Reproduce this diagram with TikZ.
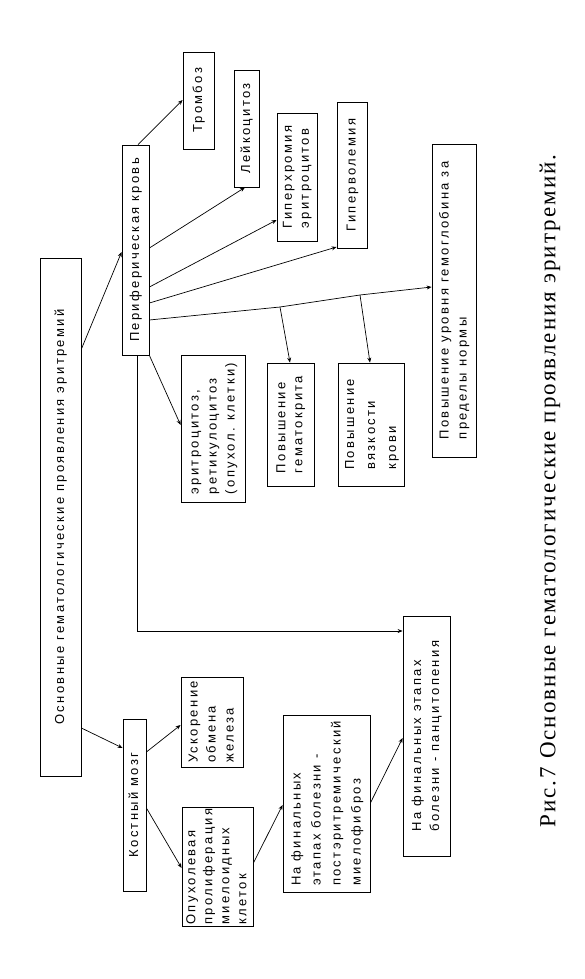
\documentclass[tikz,border=0pt]{standalone}
\usepackage{fontspec}
\setmainfont{Liberation Serif}
\newfontfamily\boxfont[LetterSpace=18]{Liberation Sans}
\newfontfamily\capfont[LetterSpace=9]{Liberation Serif}
\usetikzlibrary{arrows.meta}
\newcommand{\rt}[2][18]{\rotatebox{90}{\boxfont\fontsize{13}{#1}\selectfont\begin{tabular}{@{}l@{}}#2\end{tabular}}}
\begin{document}
\begin{tikzpicture}[x=1pt,y=-1pt,
  box/.style={draw=black, line width=0.8pt, rectangle, inner sep=0pt, fill=white},
  conn/.style={draw=black, line width=0.7pt, -{Stealth[length=5pt,width=4pt]}},
  plain/.style={draw=black, line width=0.7pt}]
\useasboundingbox[fill=white] (0,0) rectangle (585,979);
% boxes
\node[box, minimum width=41pt, minimum height=518pt] (main) at (60.5,517) {\rt{Основные гематологические проявления эритремий}};
\node[box, minimum width=27pt, minimum height=210pt] (per) at (135.5,250) {\rt{Периферическая кровь}};
\node[box, minimum width=31pt, minimum height=97pt] (tromb) at (198.5,100.5) {\rt{Тромбоз}};
\node[box, minimum width=25pt, minimum height=117pt] (leuk) at (246.5,128.5) {\rt{Лейкоцитоз}};
\node[box, minimum width=40pt, minimum height=128pt] (chrom) at (297,177) {\rt[17]{Гиперхромия\\эритроцитов}};
\node[box, minimum width=30pt, minimum height=146pt] (vol) at (352,175) {\rt{Гиперволемия}};
\node[box, minimum width=44pt, minimum height=313pt] (hb) at (454,300.5) {\rt{Повышение уровня гемоглобина за\\пределы нормы}};
\node[box, minimum width=64pt, minimum height=147pt] (ery) at (213,428.5) {\rt{эритроцитоз,\\ретикулоцитоз\\(опухол. клетки)}};
\node[box, minimum width=47pt, minimum height=123pt] (hct) at (290.5,424.5) {\rt[17]{Повышение\\гематокрита}};
\node[box, minimum width=66pt, minimum height=123pt] (visc) at (371,424.5) {\rt[21]{Повышение\\вязкости\\крови}};
\node[box, minimum width=47pt, minimum height=240pt] (panc) at (426.5,736) {\rt{На финальных этапах\\болезни - панцитопения}};
\node[box, minimum width=23pt, minimum height=172pt] (bone) at (134.5,805) {\rt{Костный мозг}};
\node[box, minimum width=62pt, minimum height=90pt] (iron) at (212,722) {\rt{Ускорение\\обмена\\железа}};
\node[box, minimum width=71pt, minimum height=119pt] (prolif) at (217.5,866.5) {\rt[17]{Опухолевая\\пролиферация\\миелоидных\\клеток}};
\node[box, minimum width=87pt, minimum height=177pt] (fibro) at (326.5,803.5) {\rt[20]{На финальных\\этапах болезни -\\постэритремический\\миелофиброз}};
% caption
\node[rotate=90, inner sep=0pt, font=\capfont\fontsize{23}{26}\selectfont] (cap) at (550,491) {Рис.7 Основные гематологические проявления эритремий.};
% connectors
\draw[conn] (main.east |- 0,728) -- (bone.west |- 0,748);
\draw[conn] (main.east |- 0,349) -- (per.west |- 0,252);
\draw[conn] (per.north -| 138,0) -- (tromb.west |- 0,100);
\draw[conn] (per.east |- 0,248) -- (leuk.south -| 245,0);
\draw[conn] (per.east |- 0,287) -- (chrom.west |- 0,220);
\draw[conn] (per.east |- 0,303) -- (vol.west |- 0,247);
\coordinate (b1) at (280,307);
\coordinate (b2) at (360,295);
\draw[conn] (per.east |- 0,320) -- (b1) -- (b2) -- (hb.west |- 0,287);
\draw[conn] (b1) -- (hct.north -| 290,0);
\draw[conn] (b2) -- (visc.north -| 370,0);
\draw[conn] (per.south east) -- (ery.west |- 0,425);
\draw[conn] (per.south -| 137,0) |- (panc.west |- 0,631);
\draw[conn] (bone.east |- 0,752) -- (iron.west |- 0,725);
\draw[conn] (bone.east |- 0,808) -- (prolif.west |- 0,868);
\draw[conn] (prolif.east |- 0,863) -- (fibro.west |- 0,805);
\draw[conn] (fibro.east |- 0,803) -- (panc.west |- 0,738);
\end{tikzpicture}
\end{document}
